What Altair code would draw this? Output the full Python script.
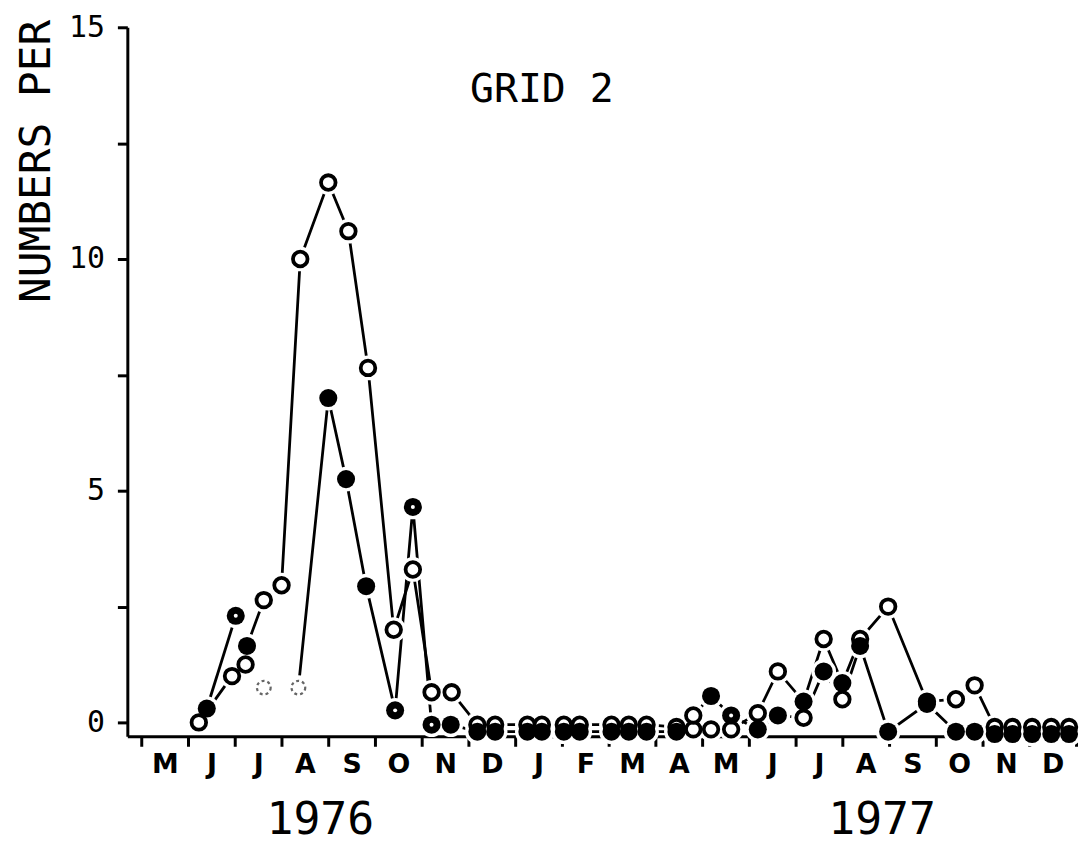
import altair as alt
import pandas as pd

# ---- data (x = months since 1 May 1976) ----
MONTH_LABELS = ["M", "J", "J", "A", "S", "O", "N", "D",
                "J", "F", "M", "A", "M", "J", "J", "A", "S", "O", "N", "D", ""]

# upper trace (mostly open circles)
A_X = [1.23, 1.94, 2.23, 2.26, 2.62, 3.00, 3.40, 4.00, 4.43, 4.85, 5.40, 5.81, 6.21, 6.64,
       7.19, 7.57, 8.26, 8.57, 9.04, 9.38, 10.06, 10.43, 10.81, 11.45,
       11.81, 12.19, 12.62, 13.19, 13.62, 14.17, 14.60, 15.00, 15.38, 15.98,
       16.81, 17.43, 17.83, 18.26, 18.64, 19.06, 19.47, 19.85]
A_Y = [0.0, 1.0, 1.25, 1.65, 2.64, 2.96, 10.0, 11.65, 10.6, 7.65, 2.0, 3.3, 0.65, 0.65,
       -0.05, -0.05, -0.05, -0.05, -0.05, -0.05, -0.05, -0.05, -0.05, -0.1,
       -0.15, -0.15, -0.15, 0.2, 1.1, 0.45, 1.8, 0.85, 1.8, 2.5,
       0.45, 0.5, 0.8, -0.1, -0.1, -0.1, -0.1, -0.1]
A_MK = ["o", "o", "o", "f", "o", "o", "o", "o", "o", "o", "o", "o", "o", "o",
        "o", "o", "o", "o", "o", "o", "o", "o", "o", "o",
        "o", "o", "o", "o", "o", "f", "o", "f", "o", "o",
        "o", "o", "o", "o", "o", "o", "o", "o"]
A_SEG = ["A"] * len(A_X)

# lower trace (mostly filled circles)
B_X = [1.40, 2.02, 2.62, 3.36, 4.00, 4.38, 4.81, 5.43, 5.81, 6.21, 6.62,
       7.19, 7.57, 8.26, 8.57, 9.04, 9.38, 10.06, 10.43, 10.81, 11.45,
       11.81, 12.19, 12.62, 13.19, 13.62, 14.17, 14.60, 15.00, 15.38, 15.98,
       16.81, 17.43, 17.83, 18.26, 18.64, 19.06, 19.47, 19.85]
B_Y = [0.3, 2.3, 0.75, 0.75, 7.0, 5.25, 2.94, 0.26, 4.65, -0.05, -0.05,
       -0.2, -0.2, -0.2, -0.2, -0.2, -0.2, -0.2, -0.2, -0.2, -0.2,
       0.15, 0.57, 0.15, -0.15, 0.15, 0.1, 1.1, 0.5, 1.65, -0.2,
       0.4, -0.2, -0.2, -0.25, -0.25, -0.25, -0.25, -0.25]
B_MK = ["f", "fd", "faint", "faint", "f", "f", "f", "fd", "fd", "fd", "f",
        "f", "f", "f", "f", "f", "f", "f", "f", "f", "f",
        "o", "f", "fd", "f", "f", "o", "f", "o", "f", "f",
        "f", "f", "f", "f", "f", "f", "f", "f"]
B_SEG = ["B1", "B1", "B2"] + ["B3"] * (len(B_X) - 3)

YEARS = ["1976", "1977"]
YEAR_X = [3.83, 15.85]
PANEL_TEXT = ["GRID 2"]
PANEL_X = [8.57]
PANEL_Y = [13.65]

rows = []
for xs, ys, ms, ss in ((A_X, A_Y, A_MK, A_SEG), (B_X, B_Y, B_MK, B_SEG)):
    for xv, yv, mv, sv in zip(xs, ys, ms, ss):
        rows.append({"seg": sv, "x": xv, "y": yv, "mk": mv})
df = pd.DataFrame(rows)
years_df = pd.DataFrame({"x": YEAR_X, "label": YEARS})
panel_df = pd.DataFrame({"x": PANEL_X, "y": PANEL_Y, "label": PANEL_TEXT})

W, H = 954, 713
label_expr = "[" + ",".join("'%s'" % m for m in MONTH_LABELS) + "][datum.value]"

X = alt.X("x:Q",
          scale=alt.Scale(domain=[-0.3, 20], nice=False, zero=False),
          axis=alt.Axis(values=list(range(21)), labelExpr=label_expr,
                        labelOffset=23.5, tickSize=10, tickWidth=3,
                        domainWidth=3, domainColor="black", tickColor="black",
                        labelFont="DejaVu Sans", labelFontWeight="bold",
                        labelFontSize=27, labelColor="black", labelPadding=5,
                        labelOverlap=False, labelBound=False, labelFlush=False,
                        grid=False, title=None))
Y = alt.Y("y:Q",
          scale=alt.Scale(domain=[-0.3, 15], nice=False, zero=False),
          axis=alt.Axis(values=[0, 2.5, 5, 7.5, 10, 12.5, 15],
                        labelExpr="datum.value % 5 == 0 ? format(datum.value, 'd') : ''",
                        tickSize=10, tickWidth=3, domainWidth=3,
                        domainColor="black", tickColor="black",
                        labelFont="DejaVu Sans Mono", labelFontSize=30,
                        labelColor="black", labelPadding=13,
                        labelOverlap=False, labelBound=False, labelFlush=False,
                        grid=False,
                        title="NUMBERS PER", titleFont="DejaVu Sans Mono",
                        titleFontSize=43, titleFontWeight="normal",
                        titleColor="black", titleX=-91, titleY=-8,
                        titleAlign="right", titleBaseline="middle"))

lines = alt.Chart(df).mark_line(color="black", strokeWidth=2.8).encode(
    x=X, y=Y, detail="seg:N")

halo = alt.Chart(df).mark_point(shape="circle", filled=True, color="white",
                                size=620, opacity=1).encode(x=X, y=Y)

open_pts = alt.Chart(df).transform_filter("datum.mk == 'o'").mark_point(
    shape="circle", filled=False, color="black", fill="white", fillOpacity=1,
    strokeWidth=3.8, size=215, opacity=1).encode(x=X, y=Y)

faint_pts = alt.Chart(df).transform_filter("datum.mk == 'faint'").mark_point(
    shape="circle", filled=False, color="#666666", strokeWidth=2.2,
    strokeDash=[3, 3], size=190, opacity=1).encode(x=X, y=Y)

filled_pts = alt.Chart(df).transform_filter(
    "datum.mk == 'f' || datum.mk == 'fd'").mark_point(
    shape="circle", filled=True, color="black", size=330, opacity=1).encode(x=X, y=Y)

dot_pts = alt.Chart(df).transform_filter("datum.mk == 'fd'").mark_point(
    shape="circle", filled=True, color="white", size=16, opacity=1).encode(x=X, y=Y)

panel = alt.Chart(panel_df).mark_text(font="DejaVu Sans Mono", fontSize=40,
                                      color="black", baseline="middle",
                                      align="center").encode(
    x=X, y=Y, text="label:N")

years = alt.Chart(years_df).mark_text(font="DejaVu Sans Mono", fontSize=45,
                                      color="black", baseline="middle",
                                      align="center").encode(
    x=X, y=alt.value(H + 84), text="label:N")

chart = alt.layer(lines, halo, faint_pts, open_pts, filled_pts, dot_pts,
                  panel, years).properties(
    width=W, height=H,
    autosize=alt.AutoSizeParams(type="none"),
    padding={"left": 120, "top": 17, "right": 5, "bottom": 125},
    background="white",
).configure_view(stroke=None)

chart.save("out.html", embed_options={"renderer": "svg", "actions": False})
